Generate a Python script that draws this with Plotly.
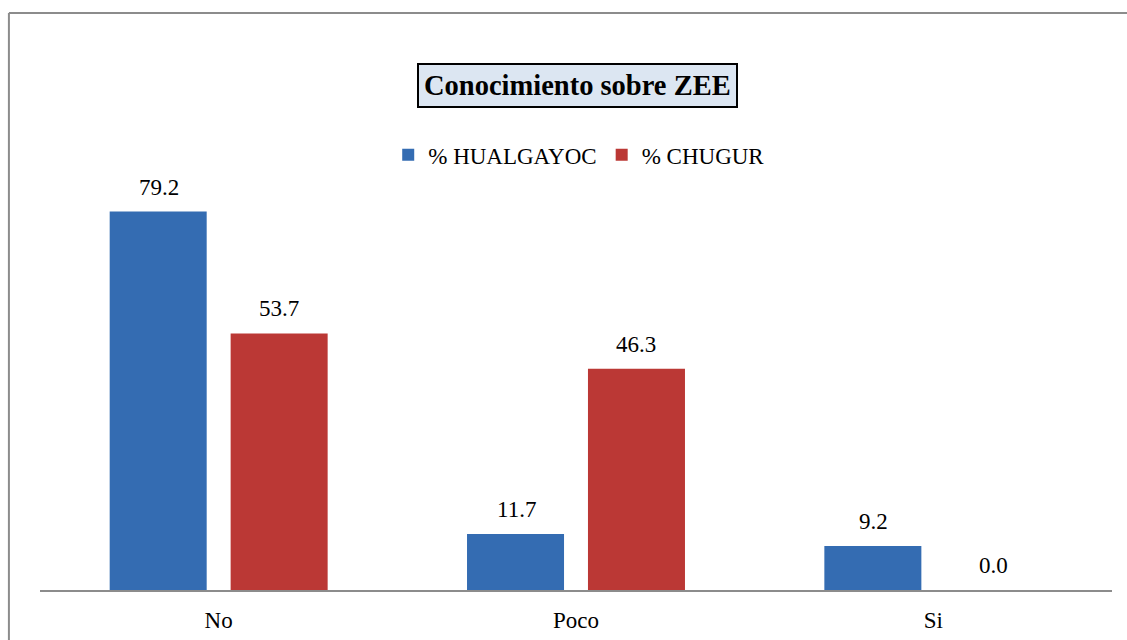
import plotly.graph_objects as go

# datos del grafico
categorias = ["No", "Poco", "Si"]
hualgayoc = [79.2, 11.7, 9.2]
chugur = [53.7, 46.3, 0.0]

serif = "Times New Roman, Liberation Serif, serif"
azul = "#346cb2"
rojo = "#bb3835"

fig = go.Figure()
fig.add_trace(go.Bar(x=categorias, y=hualgayoc, name="% HUALGAYOC",
                     marker=dict(color=azul, line=dict(width=0))))
fig.add_trace(go.Bar(x=categorias, y=chugur, name="% CHUGUR",
                     marker=dict(color=rojo, line=dict(width=0))))

# etiquetas de datos
etiquetas = []
for serie, dx in [(hualgayoc, -60), (chugur, 60)]:
    for cat, v in zip(categorias, serie):
        etiquetas.append(dict(x=cat, y=v, xref="x", yref="y", text=f"{v:.1f}",
                              showarrow=False, xshift=dx, yshift=10, yanchor="bottom",
                              font=dict(family=serif, size=23, color="black")))

etiquetas.append(dict(text="<b>Conocimiento sobre ZEE</b>", xref="paper", yref="paper",
                      x=0.501, y=1.174, xanchor="center", yanchor="middle",
                      showarrow=False, font=dict(family=serif, size=28.5, color="black"),
                      bgcolor="#dce6f2", bordercolor="black", borderwidth=2, borderpad=5))

fig.update_layout(
    width=1127, height=640,
    paper_bgcolor="white", plot_bgcolor="white",
    margin=dict(l=40, r=15, t=160, b=50),
    barmode="group", bargap=0.323, bargroupgap=0.198,
    font=dict(family=serif, size=23, color="black"),
    showlegend=True,
    legend=dict(orientation="h", x=0.503, xanchor="center", y=1.012, yanchor="middle",
                font=dict(family=serif, size=23), traceorder="normal",
                bgcolor="rgba(0,0,0,0)"),
    xaxis=dict(showline=True, linecolor="#8c8c8c", linewidth=2, ticks="",
               ticklabelstandoff=8, automargin=False,
               tickfont=dict(family=serif, size=23), showgrid=False),
    yaxis=dict(range=[0, 90], visible=False, showgrid=False, zeroline=False),
    annotations=etiquetas,
)

# marco exterior del grafico
fig.add_shape(type="line", xref="paper", yref="paper", x0=-0.029, x1=1.02,
              y0=1.342, y1=1.342, line=dict(color="#8c8c8c", width=2))
fig.add_shape(type="line", xref="paper", yref="paper", x0=-0.029, x1=-0.029,
              y0=1.342, y1=-0.2, line=dict(color="#8c8c8c", width=2))

fig.write_html("out.html", config={"displayModeBar": False},
               post_script="document.body.style.margin='0';")
